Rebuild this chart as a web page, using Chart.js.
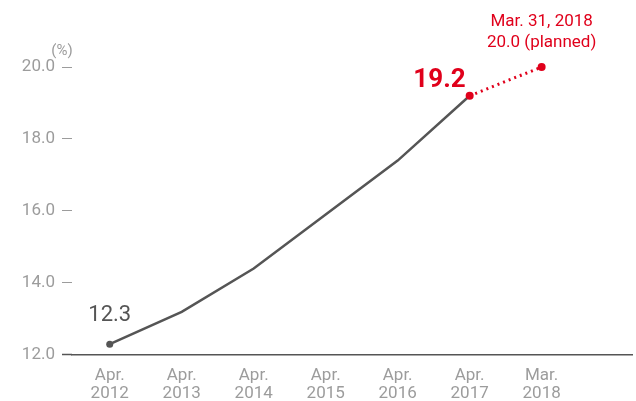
<!DOCTYPE html>
<html>
<head>
<meta charset="utf-8">
<script src="https://cdn.jsdelivr.net/npm/chart.js@4"></script>
<style>
  html, body { margin: 0; padding: 0; background: #fff; }
  #wrap { width: 636px; height: 401px; position: relative; }
</style>
</head>
<body>
<div id="wrap"><canvas id="chart"></canvas></div>
<script>
// data
const categories = [['Apr.', '2012'], ['Apr.', '2013'], ['Apr.', '2014'], ['Apr.', '2015'], ['Apr.', '2016'], ['Apr.', '2017'], ['Mar.', '2018']];
const actual = [12.3, 13.2, 14.4, 15.9, 17.4, 19.2, null];
const planned = [null, null, null, null, null, 19.2, 20.0];
const yTicks = [12, 14, 16, 18, 20];

const RED = '#e0001b';
const DARK = '#555555';
const GREY = '#9c9c9c';
const FONT = 'Roboto, "Noto Sans", sans-serif';

const toPoints = arr => arr.map((v, i) => ({ x: i, y: v }));

const labelsPlugin = {
  id: 'labels',
  afterDatasetsDraw(chart) {
    const ctx = chart.ctx;
    const x = chart.scales.x, y = chart.scales.y;
    ctx.save();
    ctx.textBaseline = 'alphabetic';

    ctx.fillStyle = GREY;
    ctx.font = '15px ' + FONT;
    ctx.textAlign = 'center';
    ctx.fillText('(%)', 62, 55);

    ctx.fillStyle = DARK;
    ctx.font = '22px ' + FONT;
    ctx.fillText(actual[0].toFixed(1), x.getPixelForValue(0), y.getPixelForValue(actual[0]) - 23);

    ctx.fillStyle = RED;
    ctx.font = 'bold 26px ' + FONT;
    ctx.textAlign = 'right';
    ctx.fillText(actual[5].toFixed(1), x.getPixelForValue(5) - 4, y.getPixelForValue(actual[5]) - 9);

    ctx.font = '17px ' + FONT;
    ctx.textAlign = 'center';
    const px = x.getPixelForValue(6);
    ctx.fillText('Mar. 31, 2018', px, 26);
    ctx.fillText(planned[6].toFixed(1) + ' (planned)', px, 47);
    ctx.restore();
  }
};

new Chart(document.getElementById('chart'), {
  type: 'line',
  data: {
    datasets: [
      {
        data: toPoints(planned),
        borderColor: RED,
        backgroundColor: RED,
        borderWidth: 3,
        borderDash: [2, 4],
        pointRadius: 4,
        pointBorderWidth: 0,
        clip: false
      },
      {
        data: toPoints(actual),
        borderColor: DARK,
        backgroundColor: DARK,
        borderWidth: 2.5,
        pointRadius: [3.5, 0, 0, 0, 0, 0, 0],
        pointBorderWidth: 0,
        clip: false
      }
    ]
  },
  options: {
    responsive: true,
    maintainAspectRatio: false,
    animation: false,
    layout: { padding: { top: 67, right: 0, bottom: -6, left: 0 } },
    plugins: { legend: { display: false }, tooltip: { enabled: false } },
    scales: {
      x: {
        type: 'linear',
        min: -0.524,
        max: 7.255,
        afterBuildTicks: s => { s.ticks = categories.map((c, i) => ({ value: i })); },
        ticks: {
          autoSkip: false,
          maxRotation: 0,
          padding: 4,
          color: GREY,
          font: { family: FONT, size: 17, lineHeight: 1.06 },
          callback: v => categories[v]
        },
        grid: { display: false },
        border: { display: true, color: DARK, width: 1.5 }
      },
      y: {
        min: 12,
        max: 20,
        afterBuildTicks: s => { s.ticks = yTicks.map(v => ({ value: v })); },
        afterFit: s => { s.width = 72; },
        ticks: {
          padding: 7,
          color: GREY,
          font: { family: FONT, size: 17 },
          callback: v => v.toFixed(1)
        },
        grid: {
          drawOnChartArea: false,
          drawTicks: true,
          tickLength: 10,
          tickColor: c => (c.tick && c.tick.value === 12 ? DARK : GREY),
          tickWidth: c => (c.tick && c.tick.value === 12 ? 1.5 : 1)
        },
        border: { display: false }
      }
    }
  },
  plugins: [labelsPlugin]
});
</script>
</body>
</html>
